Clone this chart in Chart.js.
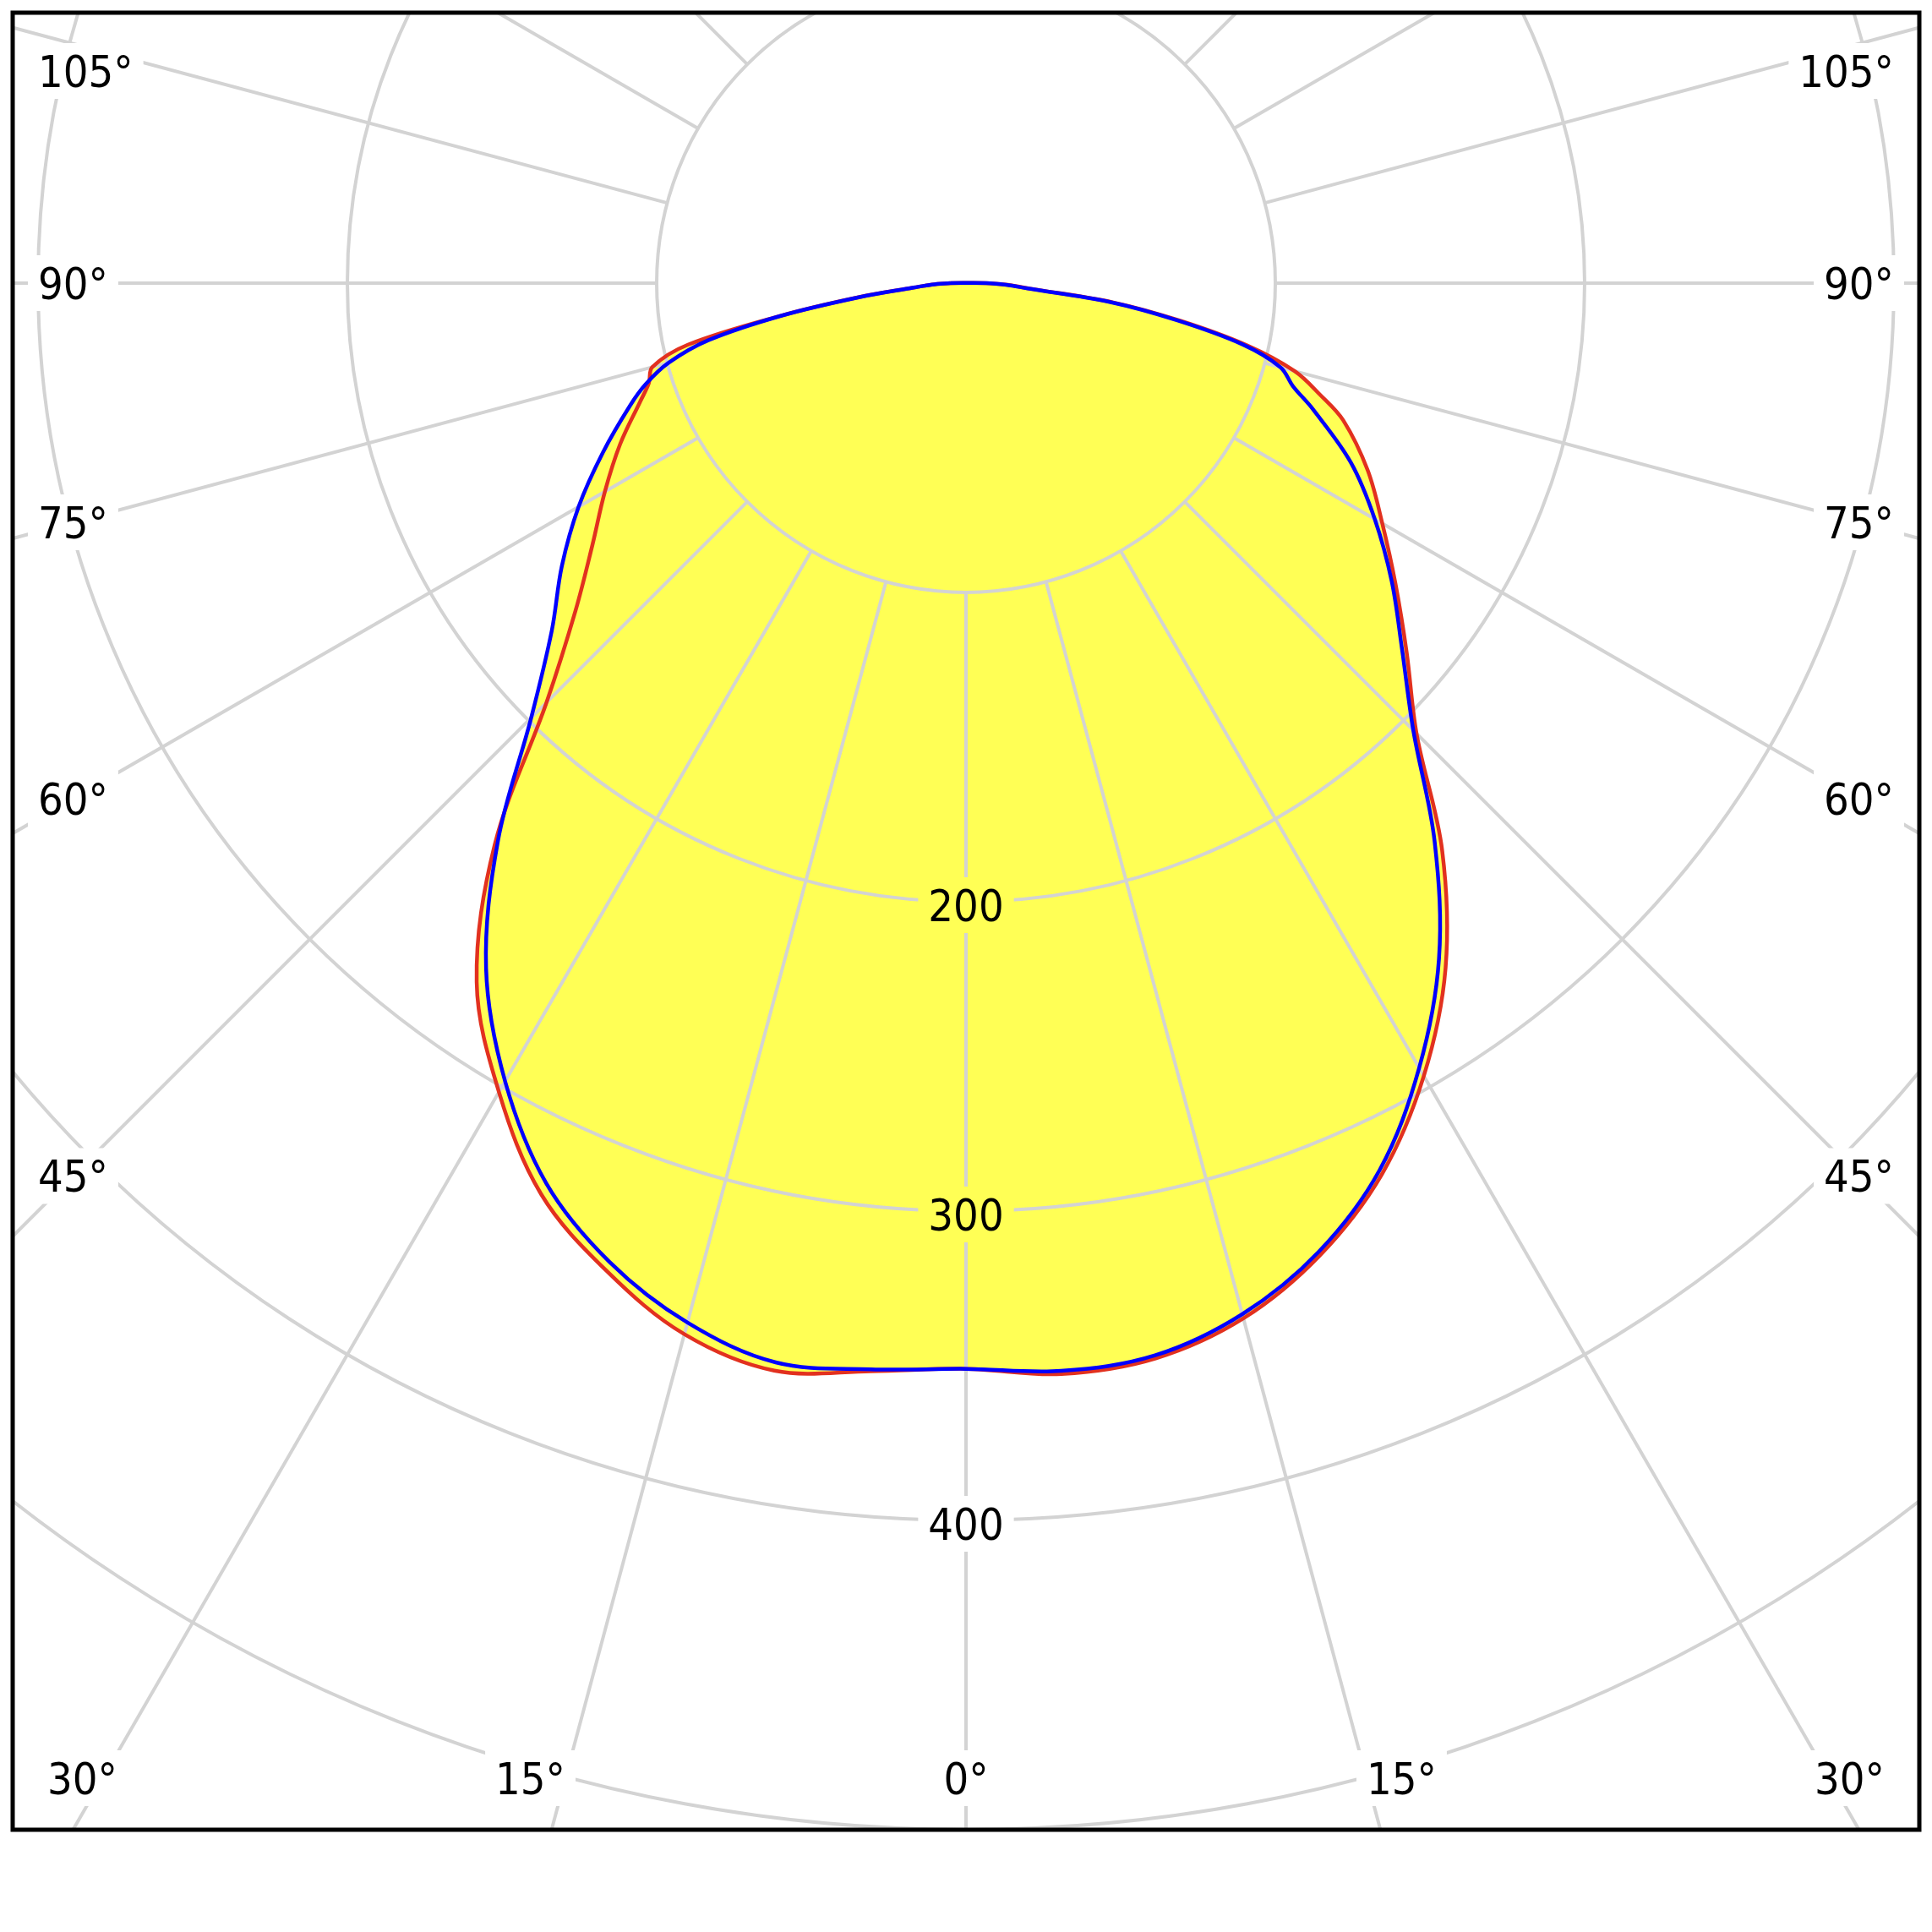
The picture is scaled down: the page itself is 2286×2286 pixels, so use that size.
<!DOCTYPE html>
<html>
<head>
<meta charset="utf-8">
<script src="https://cdn.jsdelivr.net/npm/chart.js@4.4.1/dist/chart.umd.min.js"></script>
<style>
  html, body { margin: 0; padding: 0; background: #fff; }
  canvas { display: block; }
</style>
</head>
<body>
<canvas id="polar" width="2286" height="2286"></canvas>
<script>
// gamma angles, degrees from nadir
const gammaAngles = [0, 5, 10, 15, 20, 25, 30, 35, 40, 45, 50, 55, 60, 65, 70, 72.5, 75, 77.5, 80, 82.5, 85, 87.5, 90];

// luminous intensity (cd)
const redRight  = [351, 354, 353, 346.5, 334.5, 318, 296, 270.3, 239.5, 206, 186, 169.5, 155.4, 143.3, 129.8, 120, 110, 93, 70.5, 48, 21, 13.5, 6.5];          // C0
const redLeft   = [351, 353.1, 357, 351.8, 339.8, 325, 302, 275.8, 237, 191.8, 164.8, 147.4, 134.8, 123.4, 112.1, 107.5, 105, 92, 60.5, 34.8, 17, 11, 5];      // C180
const blueRight = [351, 353, 352, 345.1, 333.3, 316.4, 293, 266.6, 235.7, 204.5, 184, 168, 152.6, 137.3, 119.4, 110.8, 105.3, 91.5, 69.2, 46.8, 20, 13, 6.5]; // C90
const blueLeft  = [351, 352.5, 354.3, 347.9, 336.8, 321.1, 298, 270.5, 235.4, 198.8, 174.8, 159.5, 144.6, 129.5, 115.5, 108.5, 99.5, 85.2, 60.3, 34.6, 17, 11, 5]; // C270

const ringValues = [100, 200, 300, 400, 500];
const ringLabelValues = [200, 300, 400];
const angleTicks = [0, 15, 30, 45, 60, 75, 90, 105];
const spokeStep = 15;

// visible window in cd
const viewHalfWidth = 308.2;
const viewTop = 87.4;
const viewBottom = -500;

const FONT_SIZE = 52;
const FONT = FONT_SIZE + 'px "DejaVu Sans Condensed", "Liberation Sans", sans-serif';

function curvePoints(left, right) {
  const pts = [];
  for (let i = gammaAngles.length - 1; i >= 0; i--) {
    const a = gammaAngles[i] * Math.PI / 180;
    pts.push({x: -left[i] * Math.sin(a), y: -left[i] * Math.cos(a)});
  }
  for (let i = 1; i < gammaAngles.length; i++) {
    const a = gammaAngles[i] * Math.PI / 180;
    pts.push({x: right[i] * Math.sin(a), y: -right[i] * Math.cos(a)});
  }
  pts.push({...pts[0]}); // close over the top
  return pts;
}

function labelBoxes(chart) {
  const {left, right, top, bottom} = chart.chartArea;
  const xs = chart.scales.x, ys = chart.scales.y;
  const cx = xs.getPixelForValue(0), cy = ys.getPixelForValue(0);
  const ctx = chart.ctx;
  ctx.save();
  ctx.font = FONT;
  const out = [];

  ringLabelValues.forEach(v => {
    const text = String(v);
    const w = ctx.measureText(text).width;
    out.push({text, x0: cx - w / 2, w, y: ys.getPixelForValue(-v) + 4});
  });

  angleTicks.forEach(deg => {
    [-1, 1].forEach(side => {
      if (deg === 0 && side > 0) return;
      const a = deg * Math.PI / 180;
      const dx = side * Math.sin(a), dy = Math.cos(a);
      const text = deg + '°';
      const w = ctx.measureText(text).width;
      const tSide = Math.abs(dx) < 1e-9 ? Infinity : ((side < 0 ? left : right) - cx) / dx;
      const tBottom = dy > 1e-9 ? (bottom - cy) / dy : Infinity;
      if (tSide < tBottom) {
        if (cy + tSide * dy < top) return;
        const x0 = side < 0 ? left + 30 : right - 30 - w;
        const xc = x0 + w / 2;
        let y = cy + (xc - cx) / dx * dy;
        y = Math.max(y, top + 69);
        out.push({text, x0, w, y});
      } else {
        const y = bottom - 61;
        const xr = cx + (y - cy) / dy * dx;
        let x0 = deg === 0 ? xr - w / 2 : (side < 0 ? xr - w : xr);
        x0 = Math.max(left + 41, Math.min(right - 41 - w, x0));
        out.push({text, x0, w, y});
      }
    });
  });
  ctx.restore();
  return out;
}

const polarGrid = {
  id: 'polarGrid',
  beforeDatasetsDraw(chart) {
    const {ctx, chartArea: ca} = chart;
    const xs = chart.scales.x, ys = chart.scales.y;
    const cx = xs.getPixelForValue(0), cy = ys.getPixelForValue(0);
    const k = xs.getPixelForValue(1) - cx;
    ctx.save();
    ctx.beginPath();
    ctx.rect(ca.left, ca.top, ca.right - ca.left, ca.bottom - ca.top);
    labelBoxes(chart).forEach(b => ctx.rect(b.x0 - 12, b.y - 33, b.w + 24, 66));
    ctx.clip('evenodd');
    ctx.strokeStyle = '#d3d3d3';
    ctx.lineWidth = 4;
    ringValues.forEach(v => {
      ctx.beginPath();
      ctx.arc(cx, cy, v * k, 0, 2 * Math.PI);
      ctx.stroke();
    });
    const r0 = ringValues[0] * k, r1 = 4000;
    for (let deg = -180; deg < 180; deg += spokeStep) {
      const a = deg * Math.PI / 180;
      ctx.beginPath();
      ctx.moveTo(cx + r0 * Math.sin(a), cy + r0 * Math.cos(a));
      ctx.lineTo(cx + r1 * Math.sin(a), cy + r1 * Math.cos(a));
      ctx.stroke();
    }
    ctx.restore();
  },
  afterDatasetsDraw(chart) {
    const ctx = chart.ctx;
    ctx.save();
    ctx.font = FONT;
    ctx.fillStyle = '#000';
    ctx.textAlign = 'left';
    ctx.textBaseline = 'alphabetic';
    labelBoxes(chart).forEach(b => ctx.fillText(b.text, b.x0, b.y + FONT_SIZE * 0.365));
    ctx.restore();
  },
  afterDraw(chart) {
    const {ctx, chartArea: ca} = chart;
    ctx.save();
    ctx.strokeStyle = '#000';
    ctx.lineWidth = 5;
    ctx.strokeRect(ca.left, ca.top, ca.right - ca.left, ca.bottom - ca.top);
    ctx.restore();
  }
};

new Chart(document.getElementById('polar'), {
  type: 'scatter',
  data: {
    datasets: [
      {
        label: 'C90 - C270',
        data: curvePoints(blueLeft, blueRight),
        showLine: true,
        borderColor: '#0000ff',
        borderWidth: 4.5,
        backgroundColor: '#ffff55',
        fill: 'shape',
        pointRadius: 0,
        tension: 0.35
      },
      {
        label: 'C0 - C180',
        data: curvePoints(redLeft, redRight),
        showLine: true,
        borderColor: '#e2311f',
        borderWidth: 4.5,
        backgroundColor: '#ffff55',
        fill: 'shape',
        pointRadius: 0,
        tension: 0.35
      }
    ]
  },
  options: {
    responsive: false,
    animation: false,
    devicePixelRatio: 1,
    layout: {padding: {left: 15, top: 15, right: 15, bottom: 121}},
    scales: {
      x: {type: 'linear', min: -viewHalfWidth, max: viewHalfWidth, display: false},
      y: {type: 'linear', min: viewBottom, max: viewTop, display: false}
    },
    elements: {line: {borderJoinStyle: 'round', capBezierPoints: false}},
    plugins: {
      legend: {display: false},
      tooltip: {enabled: false},
      filler: {drawTime: 'beforeDraw'}
    }
  },
  plugins: [polarGrid]
});
</script>
</body>
</html>
